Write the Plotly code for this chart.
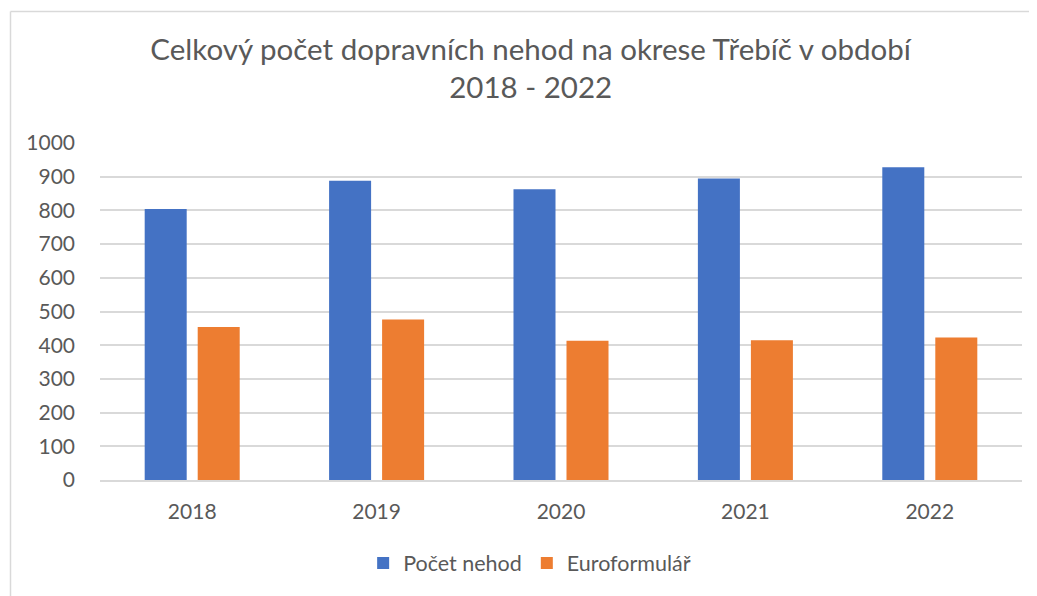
import plotly.graph_objects as go

years = ["2018", "2019", "2020", "2021", "2022"]
pocet_nehod = [804, 888, 863, 895, 928]
euroformular = [454, 476, 413, 415, 423]
y_ticks = [0, 100, 200, 300, 400, 500, 600, 700, 800, 900, 1000]

FONT = "Lato, Carlito, Calibri, sans-serif"
GRAY = "#595959"

# page body has an 8px margin; compensate so the plot lands where the reference has it
L, T, R, B = 92, 135, 23, 124
PW, PH = 1037 - L - R, 596 - T - B


def px(xf):
    return (xf - L) / PW


def py(yf):
    return (596 - B - yf) / PH


fig = go.Figure()
fig.add_trace(go.Bar(name="Počet nehod", x=years, y=pocet_nehod, marker_color="#4472C4",
                     marker_line_width=0))
fig.add_trace(go.Bar(name="Euroformulář", x=years, y=euroformular, marker_color="#ED7D31",
                     marker_line_width=0))

fig.update_layout(
    width=1037, height=596,
    margin=dict(l=L, r=R, t=T, b=B),
    paper_bgcolor="white", plot_bgcolor="white",
    barmode="group", bargap=0.425, bargroupgap=0.2075,
    font=dict(family=FONT, color=GRAY, size=21),
    title=dict(text="Celkový počet dopravních nehod na okrese Třebíč v období<br>2018 - 2022",
               x=0.504, xanchor="center", xref="container",
               y=0.913, yanchor="top", yref="container",
               font=dict(family=FONT, size=29.5, color=GRAY)),
    showlegend=True,
    legend=dict(orientation="h", x=0.466, xanchor="center", y=-0.246, yanchor="middle",
                font=dict(size=21.5, color=GRAY), itemsizing="constant", traceorder="normal"),
    xaxis=dict(showgrid=False, showline=True, linecolor="#d9d9d9", linewidth=1.5,
               ticks="", tickfont=dict(size=21, color=GRAY), ticklabelstandoff=12),
    yaxis=dict(range=[0, 1000], tickvals=y_ticks, showgrid=True, gridcolor="#d9d9d9",
               gridwidth=1.5, zeroline=False, showline=False, ticks="",
               tickfont=dict(size=21, color=GRAY), ticklabelstandoff=24),
    shapes=[
        dict(type="line", xref="paper", yref="paper",
             x0=px(2.5), x1=px(1037), y0=py(3.5), y1=py(3.5),
             line=dict(color="#d9d9d9", width=1.5)),
        dict(type="line", xref="paper", yref="paper",
             x0=px(2.5), x1=px(2.5), y0=py(3.5), y1=py(600),
             line=dict(color="#d9d9d9", width=1.5)),
    ],
)

fig.write_html("out.html")
